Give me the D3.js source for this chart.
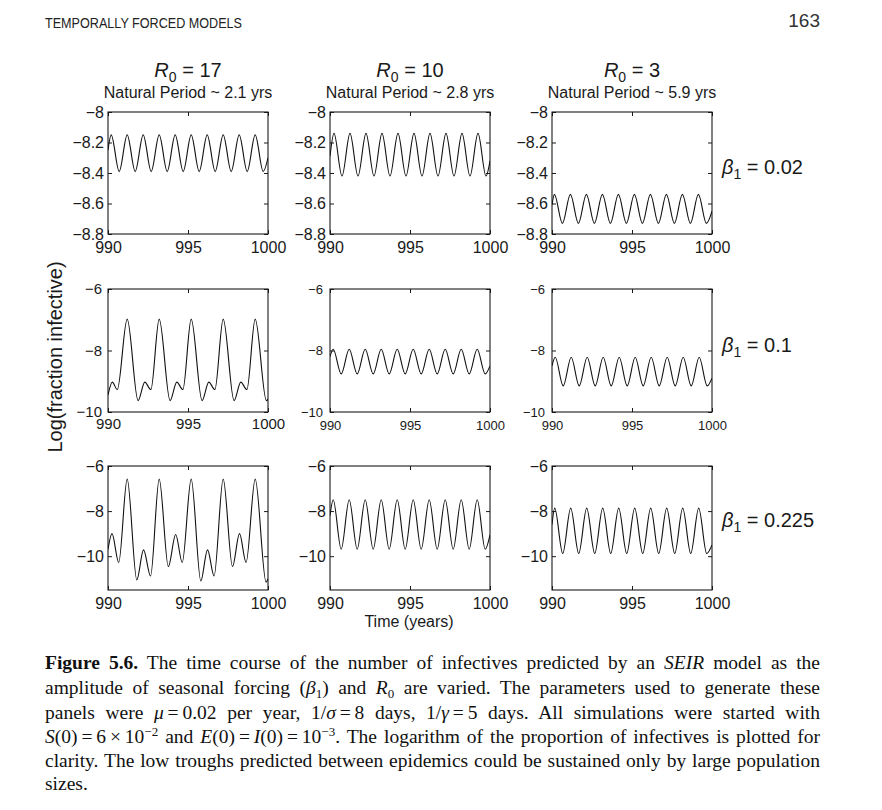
<!DOCTYPE html>
<html><head><meta charset="utf-8">
<script src="https://cdn.jsdelivr.net/npm/d3@7"></script>
<style>
html,body{margin:0;padding:0;background:#fff;}
svg{display:block;}
</style></head><body>
<svg id="chart" width="882" height="810"></svg>
<script>
// ---------------- data ----------------
const xTicks = [990, 995, 1000];
const xDomain = [990, 1000];
const r0Labels = ["17", "10", "3"];
const naturalPeriods = ["2.1", "2.8", "5.9"];
const betaLabels = ["0.02", "0.1", "0.225"];
const yTicksRow1 = [-8, -8.2, -8.4, -8.6, -8.8];
const yTicksRow2 = [-6, -8, -10];
const yTicksRow3 = [-6, -8, -10];
const yDomainRow1 = [-8.8, -8];
const yDomainRow2 = [-10, -6];
const yDomainRow3 = [-11.5, -6];

// [time (years), log(fraction infective)] at extrema
const seriesR17B002 = [[990,-8.25],[990.2,-8.15],[990.7,-8.39],[991.2,-8.15],[991.7,-8.39],[992.2,-8.15],[992.7,-8.39],[993.2,-8.15],[993.7,-8.39],[994.2,-8.15],[994.7,-8.39],[995.2,-8.15],[995.7,-8.39],[996.2,-8.15],[996.7,-8.39],[997.2,-8.15],[997.7,-8.39],[998.2,-8.15],[998.7,-8.39],[999.2,-8.15],[999.7,-8.39],[1000,-8.3]];
const seriesR10B002 = [[990,-8.29],[990.25,-8.14],[990.75,-8.42],[991.25,-8.14],[991.75,-8.42],[992.25,-8.14],[992.75,-8.42],[993.25,-8.14],[993.75,-8.42],[994.25,-8.14],[994.75,-8.42],[995.25,-8.14],[995.75,-8.42],[996.25,-8.14],[996.75,-8.42],[997.25,-8.14],[997.75,-8.42],[998.25,-8.14],[998.75,-8.42],[999.25,-8.14],[999.75,-8.42],[1000,-8.32]];
const seriesR3B002 = [[990,-8.61],[990.15,-8.54],[990.65,-8.73],[991.15,-8.54],[991.65,-8.73],[992.15,-8.54],[992.65,-8.73],[993.15,-8.54],[993.65,-8.73],[994.15,-8.54],[994.65,-8.73],[995.15,-8.54],[995.65,-8.73],[996.15,-8.54],[996.65,-8.73],[997.15,-8.54],[997.65,-8.73],[998.15,-8.54],[998.65,-8.73],[999.15,-8.54],[999.65,-8.73],[1000,-8.65]];

const seriesR17B01 = [[990,-9.45],[990.27,-9.03],[990.58,-9.27],[991.2,-6.98],[991.88,-9.63],[992.3,-9.03],[992.68,-9.27],[993.2,-6.98],[993.88,-9.63],[994.3,-9.03],[994.68,-9.27],[995.2,-6.98],[995.88,-9.63],[996.3,-9.03],[996.68,-9.27],[997.2,-6.98],[997.88,-9.63],[998.3,-9.03],[998.68,-9.27],[999.2,-6.98],[999.9,-9.63],[1000,-9.58]];
const seriesR10B01 = [[990,-8.2],[990.2,-7.96],[990.7,-8.76],[991.2,-7.96],[991.7,-8.76],[992.2,-7.96],[992.7,-8.76],[993.2,-7.96],[993.7,-8.76],[994.2,-7.96],[994.7,-8.76],[995.2,-7.96],[995.7,-8.76],[996.2,-7.96],[996.7,-8.76],[997.2,-7.96],[997.7,-8.76],[998.2,-7.96],[998.7,-8.76],[999.2,-7.96],[999.7,-8.76],[1000,-8.5]];
const seriesR3B01 = [[990,-8.5],[990.2,-8.22],[990.7,-9.15],[991.2,-8.22],[991.7,-9.15],[992.2,-8.22],[992.7,-9.15],[993.2,-8.22],[993.7,-9.15],[994.2,-8.22],[994.7,-9.15],[995.2,-8.22],[995.7,-9.15],[996.2,-8.22],[996.7,-9.15],[997.2,-8.22],[997.7,-9.15],[998.2,-8.22],[998.7,-9.15],[999.2,-8.22],[999.7,-9.15],[1000,-8.9]];

const seriesR17B0225 = [[990,-9.7],[990.25,-9.0],[990.67,-10.28],[991.2,-6.58],[991.8,-11.05],[992.22,-9.72],[992.66,-10.88],[993.2,-6.58],[993.77,-10.46],[994.23,-9.04],[994.64,-10.28],[995.2,-6.58],[995.8,-11.1],[996.22,-9.72],[996.63,-10.88],[997.2,-6.58],[997.78,-10.46],[998.22,-9.0],[998.63,-10.28],[999.2,-6.58],[999.88,-11.15],[1000,-11.0]];
const seriesR10B0225 = [[990,-8.2],[990.2,-7.5],[990.7,-9.69],[991.2,-7.5],[991.7,-9.69],[992.2,-7.5],[992.7,-9.69],[993.2,-7.5],[993.7,-9.69],[994.2,-7.5],[994.7,-9.69],[995.2,-7.5],[995.7,-9.69],[996.2,-7.5],[996.7,-9.69],[997.2,-7.5],[997.7,-9.69],[998.2,-7.5],[998.7,-9.69],[999.2,-7.5],[999.7,-9.69],[1000,-9.05]];
const seriesR3B0225 = [[990,-8.6],[990.17,-7.87],[990.67,-9.88],[991.17,-7.87],[991.67,-9.88],[992.17,-7.87],[992.67,-9.88],[993.17,-7.87],[993.67,-9.88],[994.17,-7.87],[994.67,-9.88],[995.17,-7.87],[995.67,-9.88],[996.17,-7.87],[996.67,-9.88],[997.17,-7.87],[997.67,-9.88],[998.17,-7.87],[998.67,-9.88],[999.17,-7.87],[999.67,-9.88],[1000,-9.5]];

// ---------------- layout ----------------
const SANS = "'Liberation Sans', Arial, Helvetica, sans-serif";
const SERIF = "'Liberation Serif', 'Times New Roman', serif";
const INK = "#1a1a1a";
const svg = d3.select("#chart");

const colLeft = [108, 330, 552];
const colW = 160;
const rows = [
  {top:112, bottom:234, domain:yDomainRow1, ticks:yTicksRow1, fs:[16,16,16], xPad:[7.5,7.5,7.5], yPad:[4,4,4], betaY:174,
   series:[seriesR17B002, seriesR10B002, seriesR3B002]},
  {top:289, bottom:412, domain:yDomainRow2, ticks:yTicksRow2, fs:[15,13,13], xPad:[6.5,9,9], yPad:[6,7,7], betaY:352,
   series:[seriesR17B01, seriesR10B01, seriesR3B01]},
  {top:466, bottom:590, domain:yDomainRow3, ticks:yTicksRow3, fs:[16,16,16], xPad:[7.5,7.5,7.5], yPad:[4,4,4], betaY:527,
   series:[seriesR17B0225, seriesR10B0225, seriesR3B0225]}
];
const fmt = d3.format("");

rows.forEach((row, r) => {
  row.series.forEach((data, c) => {
    const left = colLeft[c], right = left + colW;
    const x = d3.scaleLinear().domain(xDomain).range([left, right]);
    const y = d3.scaleLinear().domain(row.domain).range([row.bottom, row.top]);
    const g = svg.append("g").attr("color", INK);
    const fs = row.fs[c];
    const clipId = `clip-${r}-${c}`;
    svg.append("clipPath").attr("id", clipId).append("rect")
      .attr("x", left).attr("y", row.top).attr("width", colW).attr("height", row.bottom - row.top);

    // axes (matlab-style inward ticks on all four sides)
    const axL = g.append("g").attr("transform", `translate(${left},0)`)
      .call(d3.axisLeft(y).tickValues(row.ticks).tickSize(-4).tickPadding(row.yPad[c]).tickFormat(fmt));
    const axR = g.append("g").attr("transform", `translate(${right},0)`)
      .call(d3.axisRight(y).tickValues(row.ticks).tickSize(-4).tickFormat(""));
    const axB = g.append("g").attr("transform", `translate(0,${row.bottom})`)
      .call(d3.axisBottom(x).tickValues(xTicks).tickSize(-4).tickPadding(row.xPad[c]).tickFormat(fmt));
    const axT = g.append("g").attr("transform", `translate(0,${row.top})`)
      .call(d3.axisTop(x).tickValues(xTicks).tickSize(-4).tickFormat(""));
    [axL, axR, axB, axT].forEach(a => {
      a.select(".domain").remove();
      a.attr("font-size", fs).attr("font-family", SANS);
      a.selectAll(".tick line").attr("stroke-width", 1);
    });
    axB.selectAll(".tick text").attr("dy", "0.71em");

    // frame
    g.append("rect").attr("x", left).attr("y", row.top).attr("width", colW).attr("height", row.bottom - row.top)
      .attr("fill", "none").attr("stroke", INK).attr("stroke-width", 1.1);

    // curve
    const line = d3.line().x(d => x(d[0])).y(d => y(d[1])).curve(d3.curveMonotoneX);
    g.append("path").datum(data).attr("d", line).attr("fill", "none")
      .attr("stroke", "#111").attr("stroke-width", 1.1).attr("clip-path", `url(#${clipId})`);
  });

  // beta label on the right
  const bt = svg.append("text").attr("x", 722).attr("y", row.betaY)
    .attr("font-family", SANS).attr("font-size", 20).attr("fill", INK);
  bt.append("tspan").attr("font-style", "italic").text("β");
  bt.append("tspan").attr("dy", 5).attr("font-size", 14).text("1");
  bt.append("tspan").attr("dy", -5).text(" = " + betaLabels[r]);
});

// column titles
colLeft.forEach((left, c) => {
  const cx = left + colW / 2;
  const t = svg.append("text").attr("x", cx).attr("y", 77).attr("text-anchor", "middle")
    .attr("font-family", SANS).attr("font-size", 20).attr("fill", INK);
  t.append("tspan").attr("font-style", "italic").text("R");
  t.append("tspan").attr("dy", 5).attr("font-size", 14).text("0");
  t.append("tspan").attr("dy", -5).text(" = " + r0Labels[c]);
  svg.append("text").attr("x", cx).attr("y", 98).attr("text-anchor", "middle")
    .attr("font-family", SANS).attr("font-size", 16).attr("fill", INK)
    .text(`Natural Period ~ ${naturalPeriods[c]} yrs`);
});

// axis titles
svg.append("text").attr("transform", "translate(62,357) rotate(-90)").attr("text-anchor", "middle")
  .attr("font-family", SANS).attr("font-size", 20).attr("fill", INK).text("Log(fraction infective)");
svg.append("text").attr("x", 409).attr("y", 627).attr("text-anchor", "middle")
  .attr("font-family", SANS).attr("font-size", 16).attr("fill", INK).text("Time (years)");

// running header
svg.append("text").attr("x", 45).attr("y", 28).attr("font-family", SANS).attr("font-size", 14)
  .attr("fill", "#222").attr("textLength", 197).attr("lengthAdjust", "spacingAndGlyphs")
  .text("TEMPORALLY FORCED MODELS");
svg.append("text").attr("x", 820).attr("y", 27).attr("text-anchor", "end").attr("font-family", SANS)
  .attr("font-size", 19).attr("fill", "#333").text("163");

// caption
const TH = "\u2009";
const captionLines = [
  [["Figure 5.6.", "b"], [" The time course of the number of infectives predicted by an ", ""], ["SEIR", "i"], [" model as the", ""]],
  [["amplitude of seasonal forcing (", ""], ["β", "i"], ["1", "sub"], [") and ", ""], ["R", "i"], ["0", "sub"], [" are varied. The parameters used to generate these", ""]],
  [["panels were ", ""], ["μ", "i"], [TH + "=" + TH + "0.02 per year, 1/", ""], ["σ", "i"], [TH + "=" + TH + "8 days, 1/", ""], ["γ", "i"], [TH + "=" + TH + "5 days. All simulations were started with", ""]],
  [["S", "i"], ["(0)" + TH + "=" + TH + "6" + TH + "×" + TH + "10", ""], ["−2", "sup"], [" and ", ""], ["E", "i"], ["(0)" + TH + "=" + TH, ""], ["I", "i"], ["(0)" + TH + "=" + TH + "10", ""], ["−3", "sup"], [". The logarithm of the proportion of infectives is plotted for", ""]],
  [["clarity. The low troughs predicted between epidemics could be sustained only by large population", ""]],
  [["sizes.", ""]]
];
const capBase = [669, 694, 718.5, 743, 767, 790];
const capLeft = 45, capWidth = 775;
captionLines.forEach((segs, i) => {
  const t = svg.append("text").attr("x", capLeft).attr("y", capBase[i])
    .attr("font-family", SERIF).attr("font-size", 19.5).attr("fill", "#111");
  let shift = 0;
  segs.forEach(([txt, st]) => {
    const sp = t.append("tspan").text(txt);
    let target = 0;
    if (st === "b") sp.attr("font-weight", "bold");
    if (st === "i") sp.attr("font-style", "italic");
    if (st === "sub") { target = 4; sp.attr("font-size", 13); }
    if (st === "sup") { target = -7; sp.attr("font-size", 13); }
    if (target !== shift) { sp.attr("dy", target - shift); shift = target; }
  });
  if (i < captionLines.length - 1) {
    const natural = t.node().getComputedTextLength();
    const spaces = (t.text().match(/ /g) || []).length;
    if (spaces > 0) t.attr("word-spacing", (capWidth - natural) / spaces);
  }
});
</script>
</body></html>
